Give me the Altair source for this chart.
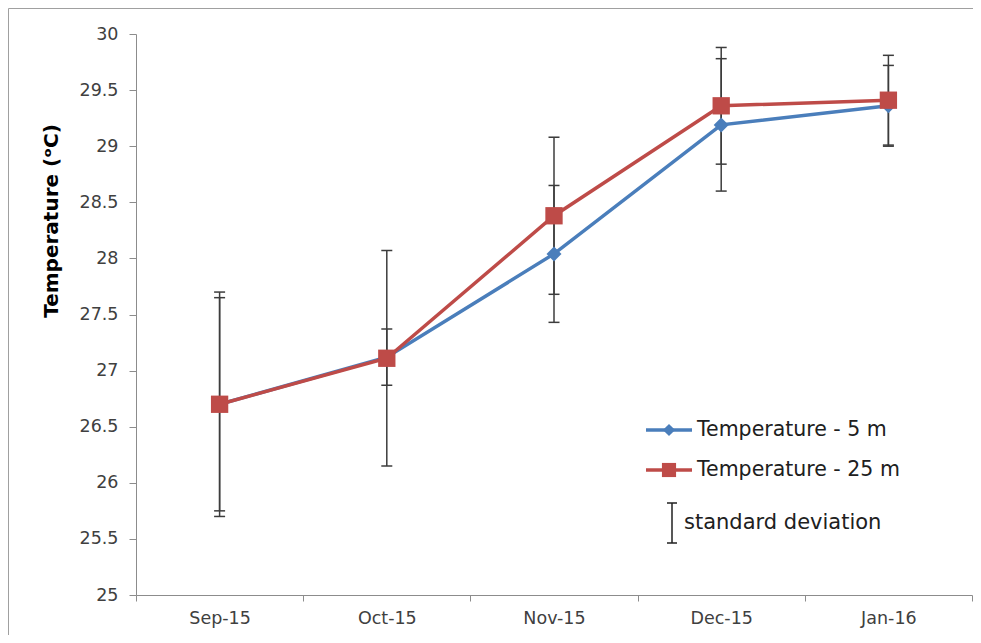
import altair as alt
import pandas as pd

# ---------------- data ----------------
months = ["Sep-15", "Oct-15", "Nov-15", "Dec-15", "Jan-16"]
temp_5m = [26.70, 27.12, 28.04, 29.19, 29.36]
sd_5m = [0.95, 0.25, 0.61, 0.59, 0.36]
temp_25m = [26.70, 27.11, 28.38, 29.36, 29.41]
sd_25m = [1.00, 0.96, 0.70, 0.52, 0.40]
y_ticks = [25, 25.5, 26, 26.5, 27, 27.5, 28, 28.5, 29, 29.5, 30]
series_names = ["Temperature - 5 m", "Temperature - 25 m"]
legend_sd = "standard deviation"
y_title = "Temperature  (ᵒC)"

rows = []
for name, t, s in ((series_names[0], temp_5m, sd_5m), (series_names[1], temp_25m, sd_25m)):
    for m, v, e in zip(months, t, s):
        rows.append({"series": name, "month": m, "temp": v, "sd": e})
df = pd.DataFrame(rows)

# ---------------- style ----------------
W, H = 836, 561
FONT = "DejaVu Sans"
BLUE = "#4A7EBB"
RED = "#BE4B48"
ERR = "#3C3C3C"
AXIS = "#8C8C8C"
TXT = "#404040"
FRAME = "#A0A0A0"

base = alt.Chart(df).transform_calculate(
    lo="datum.temp - datum.sd", hi="datum.temp + datum.sd"
)

x_enc = alt.X(
    "month:N", sort=months,
    scale=alt.Scale(type="band", paddingInner=0, paddingOuter=0),
    axis=alt.Axis(title=None, tickBand="extent", tickSize=6, labelPadding=8,
                  labelFontSize=17.5, labelColor=TXT, labelAngle=0, labelFont=FONT,
                  domainColor=AXIS, tickColor=AXIS, grid=False),
)
y_scale = alt.Scale(domain=[25, 30], nice=False, zero=False)
y_axis = alt.Axis(title=None, values=y_ticks, format="~g", tickSize=7, labelPadding=11,
                  labelFontSize=17.5, labelColor=TXT, labelFont=FONT,
                  domainColor=AXIS, tickColor=AXIS, grid=False)

err_rule = base.mark_rule(color=ERR, strokeWidth=1.5).encode(
    x=x_enc, y=alt.Y("lo:Q", scale=y_scale, axis=y_axis), y2="hi:Q"
)
err_top = base.mark_tick(color=ERR, size=11, thickness=1.5, opacity=1).encode(
    x=x_enc, y=alt.Y("hi:Q", scale=y_scale, axis=y_axis)
)
err_bot = base.mark_tick(color=ERR, size=11, thickness=1.5, opacity=1).encode(
    x=x_enc, y=alt.Y("lo:Q", scale=y_scale, axis=y_axis)
)

def series_layers(name, color, shape, size):
    b = base.transform_filter(alt.datum.series == name)
    line = b.mark_line(color=color, strokeWidth=3.5).encode(
        x=x_enc, y=alt.Y("temp:Q", scale=y_scale, axis=y_axis)
    )
    pts = b.mark_point(filled=True, shape=shape, size=size, color=color, opacity=1).encode(
        x=x_enc, y=alt.Y("temp:Q", scale=y_scale, axis=y_axis)
    )
    return line, pts

l5, p5 = series_layers(series_names[0], BLUE, "diamond", 225)
l25, p25 = series_layers(series_names[1], RED, "square", 300)

# ---------------- legend (drawn in plot coordinates) ----------------
one = pd.DataFrame({"k": [0]})
leg = alt.Chart(one)
LX0, LX1, LXC, LTX = 510, 556, 533, 561
LY1, LY2 = 396, 436

leg_l1 = leg.mark_rule(color=BLUE, strokeWidth=3.5).encode(
    x=alt.value(LX0), x2=alt.value(LX1), y=alt.value(LY1))
leg_p1 = leg.mark_point(filled=True, shape="diamond", size=150, color=BLUE, opacity=1).encode(
    x=alt.value(LXC), y=alt.value(LY1))
leg_t1 = leg.mark_text(align="left", baseline="middle", font=FONT, fontSize=20.5, color="#202020").encode(
    x=alt.value(LTX), y=alt.value(LY1), text=alt.value(series_names[0]))

leg_l2 = leg.mark_rule(color=RED, strokeWidth=3.5).encode(
    x=alt.value(LX0), x2=alt.value(LX1), y=alt.value(LY2))
leg_p2 = leg.mark_point(filled=True, shape="square", size=200, color=RED, opacity=1).encode(
    x=alt.value(LXC), y=alt.value(LY2))
leg_t2 = leg.mark_text(align="left", baseline="middle", font=FONT, fontSize=20.5, color="#202020").encode(
    x=alt.value(LTX), y=alt.value(LY2), text=alt.value(series_names[1]))

leg_e = leg.mark_rule(color="#202020", strokeWidth=1.5).encode(
    x=alt.value(536), y=alt.value(469), y2=alt.value(509))
leg_e_t = leg.mark_rule(color="#202020", strokeWidth=1.5).encode(
    x=alt.value(531), x2=alt.value(541), y=alt.value(469))
leg_e_b = leg.mark_rule(color="#202020", strokeWidth=1.5).encode(
    x=alt.value(531), x2=alt.value(541), y=alt.value(509))
leg_t3 = leg.mark_text(align="left", baseline="middle", font=FONT, fontSize=21, color="#202020").encode(
    x=alt.value(548), y=alt.value(489), text=alt.value(legend_sd))

# y title
ytitle = leg.mark_text(angle=270, align="center", baseline="middle", font=FONT, fontSize=20,
                       fontWeight="bold", color="#000000").encode(
    x=alt.value(-84), y=alt.value(187), text=alt.value(y_title))

# outer frame (left and top edges only; the rest lies outside the picture)
frame_l = leg.mark_rule(color=FRAME, strokeWidth=1).encode(
    x=alt.value(-127.5), y=alt.value(-25.5), y2=alt.value(H + 80))
frame_t = leg.mark_rule(color=FRAME, strokeWidth=1).encode(
    x=alt.value(-127.5), x2=alt.value(W + 1), y=alt.value(-25.5))

chart = alt.layer(
    frame_l, frame_t,
    err_rule, err_top, err_bot,
    l5, l25, p5, p25,
    leg_l1, leg_p1, leg_t1, leg_l2, leg_p2, leg_t2,
    leg_e, leg_e_t, leg_e_b, leg_t3,
    ytitle,
).properties(
    width=W, height=H,
    padding={"left": 128, "top": 26, "right": 1, "bottom": 40},
    autosize=alt.AutoSizeParams(type="none"),
).configure_view(stroke=None, strokeWidth=0)

chart.save("out.html", embed_options={"renderer": "svg", "actions": False})
